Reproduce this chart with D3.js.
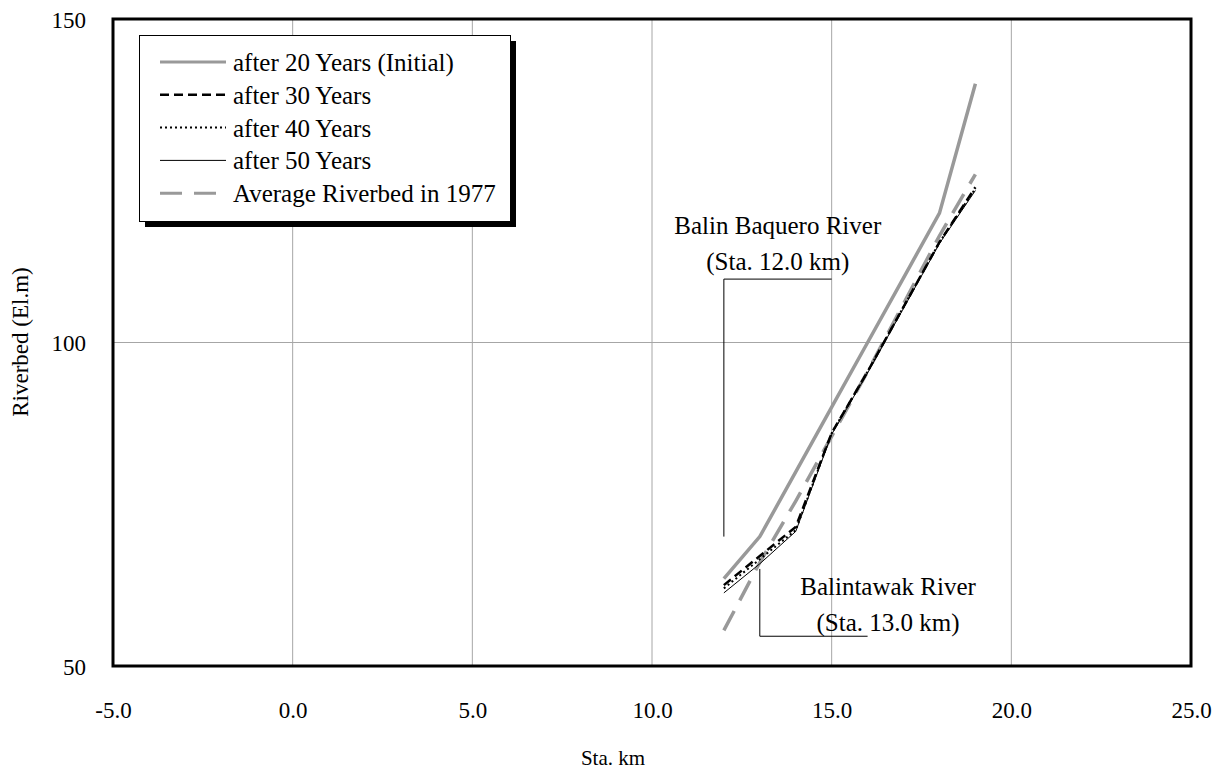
<!DOCTYPE html>
<html><head><meta charset="utf-8">
<script src="https://cdn.jsdelivr.net/npm/d3@7"></script>
<style>body{margin:0;background:#fff}svg text{font-family:"Liberation Serif","Times New Roman",serif;fill:#000}</style>
</head><body><svg id="c" width="1223" height="771"></svg>
<script>
const stations = [12, 13, 14, 15, 16, 17, 18, 19];
const after20 = [63.5, 70, 80, 90, 100, 110, 120, 140];
const after30 = [62.5, 67, 71.5, 86, 95.5, 105.5, 115.5, 124];
const after40 = [62, 66.5, 71, 86, 95.5, 105.5, 115.5, 123.8];
const after50 = [61.3, 65.8, 70.8, 85.8, 95.3, 105.3, 115.3, 123.5];
const avg1977 = [55.5, 66, 75.5, 85.5, 95.5, 106, 116.5, 126];
const seriesNames = ["after 20 Years (Initial)", "after 30 Years", "after 40 Years", "after 50 Years", "Average Riverbed in 1977"];
const xTicks = [-5, 0, 5, 10, 15, 20, 25];
const yTicks = [50, 100, 150];
const annBaquero = {label: ["Balin Baquero River", "(Sta. 12.0 km)"], leader: [[12, 70], [12, 109.8], [15, 109.8]], text: [13.5, 116.8]};
const annBalintawak = {label: ["Balintawak River", "(Sta. 13.0 km)"], leader: [[13, 65], [13, 54.6], [16, 54.6]], text: [16.57, 61.0]};

const svg = d3.select("#c");
const L = 113, R = 1191, T = 19, B = 666;
const x = d3.scaleLinear().domain([-5, 25]).range([L, R]);
const y = d3.scaleLinear().domain([50, 150]).range([B, T]);

// grid
const g = svg.append("g");
g.selectAll("line.vx").data(xTicks.slice(1, -1)).join("line")
  .attr("x1", d => x(d)).attr("x2", d => x(d)).attr("y1", T).attr("y2", B)
  .attr("stroke", "#a6a6a6").attr("stroke-width", 1);
g.selectAll("line.hy").data(yTicks.slice(1, -1)).join("line")
  .attr("y1", d => y(d)).attr("y2", d => y(d)).attr("x1", L).attr("x2", R)
  .attr("stroke", "#a6a6a6").attr("stroke-width", 1);

// axes labels via d3 axes
const fmt = d => d3.format(".1f")(d).replace("\u2212", "-");
const xAxis = d3.axisBottom(x).tickValues(xTicks).tickFormat(fmt).tickSize(0).tickPadding(36);
const xa = svg.append("g").attr("transform", `translate(0,${B})`).call(xAxis);
xa.select(".domain").remove();
xa.selectAll("text").attr("font-size", 23).attr("font-family", "Liberation Serif").attr("dy", 0).attr("y", 52);
const yAxis = d3.axisLeft(y).tickValues(yTicks).tickSize(0).tickPadding(27);
const ya = svg.append("g").attr("transform", `translate(${L},0)`).call(yAxis);
ya.select(".domain").remove();
ya.selectAll("text").attr("font-size", 23).attr("font-family", "Liberation Serif").attr("dy", "0.35em");

svg.append("text").attr("x", 613).attr("y", 765).attr("text-anchor", "middle").attr("font-size", 21).text("Sta. km");
svg.append("text").attr("transform", "translate(28,342) rotate(-90)").attr("text-anchor", "middle").attr("font-size", 23).text("Riverbed (El.m)");

// series
const styles = [
  {data: after20, stroke: "#999999", w: 3.5, dash: null},
  {data: after30, stroke: "#000", w: 2.5, dash: "9,5"},
  {data: after40, stroke: "#000", w: 2, dash: "2,3"},
  {data: after50, stroke: "#000", w: 1, dash: null},
  {data: avg1977, stroke: "#999999", w: 3.5, dash: "22,12"}
];
const line = d3.line().x(d => x(d[0])).y(d => y(d[1]));
const drawOrder = [0, 4, 1, 2, 3];
drawOrder.forEach(i => {
  const s = styles[i];
  svg.append("path").datum(stations.map((st, k) => [st, s.data[k]]))
    .attr("d", line).attr("fill", "none").attr("stroke", s.stroke).attr("stroke-width", s.w)
    .attr("stroke-dasharray", s.dash);
});

// annotations
[annBaquero, annBalintawak].forEach(a => {
  svg.append("path").datum(a.leader).attr("d", line).attr("fill", "none").attr("stroke", "#000").attr("stroke-width", 1);
  a.label.forEach((t, k) => {
    svg.append("text").attr("x", x(a.text[0])).attr("y", y(a.text[1]) + k * 36)
      .attr("text-anchor", "middle").attr("font-size", 25).text(t);
  });
});

// frame
svg.append("rect").attr("x", L).attr("y", T).attr("width", R - L).attr("height", B - T)
  .attr("fill", "none").attr("stroke", "#000").attr("stroke-width", 3);

// legend
const lg = svg.append("g");
lg.append("rect").attr("x", 145).attr("y", 41).attr("width", 371).attr("height", 186).attr("fill", "#000");
lg.append("rect").attr("x", 139.5).attr("y", 35.5).attr("width", 371).attr("height", 186).attr("fill", "#fff").attr("stroke", "#000").attr("stroke-width", 1);
seriesNames.forEach((n, i) => {
  const yy = 62 + i * 32.8;
  const s = styles[i];
  lg.append("line").attr("x1", 160).attr("x2", 226).attr("y1", yy).attr("y2", yy)
    .attr("stroke", s.stroke).attr("stroke-width", s.w === 3.5 ? 3 : s.w).attr("stroke-dasharray", s.dash);
  lg.append("text").attr("x", 233).attr("y", yy + 9).attr("font-size", 25).text(n);
});
</script></body></html>
